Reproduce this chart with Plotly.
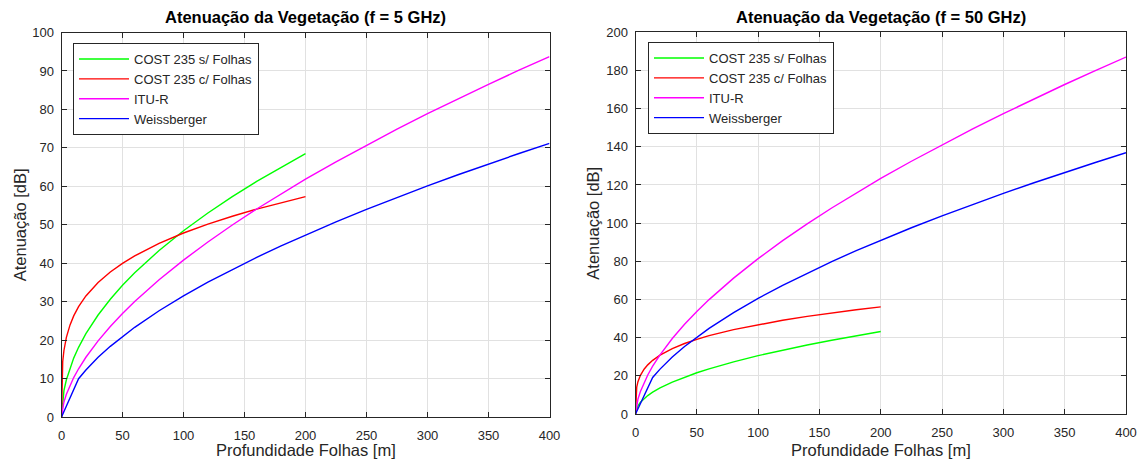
import plotly.graph_objects as go

# Foliage depth samples [m]
depth_200 = [0, 1, 2, 4, 7, 10, 14, 20, 30, 40, 50, 60, 80, 100, 120, 140, 160, 180, 200]
depth_400 = depth_200 + [225, 250, 275, 300, 325, 350, 375, 400]

# Attenuation [dB] at f = 5 GHz
cost_sem_5 = [0, 4.84, 6.85, 9.69, 12.81, 15.31, 18.12, 21.66, 26.52, 30.63, 34.24, 37.51,
              43.31, 48.43, 53.05, 57.30, 61.26, 64.97, 68.49]
cost_com_5 = [0, 14.45, 17.30, 20.72, 23.96, 26.29, 28.70, 31.48, 34.99, 37.70, 39.96, 41.89,
              45.15, 47.85, 50.17, 52.22, 54.06, 55.75, 57.30]
itu_5 = [0, 2.57, 3.90, 5.92, 8.28, 10.25, 12.54, 15.54, 19.81, 23.55, 26.92, 30.03,
         35.69, 40.81, 45.52, 49.93, 54.10, 58.06, 61.85, 66.38, 70.71, 74.87, 78.88,
         82.77, 86.53, 90.19, 93.75]
weiss_5 = [0, 0.71, 1.42, 2.84, 4.98, 7.11, 9.95, 12.23, 15.52, 18.38, 20.96, 23.33,
           27.63, 31.50, 35.07, 38.40, 41.53, 44.51, 47.36, 50.75, 54.00, 57.11, 60.11,
           63.00, 65.81, 68.53, 71.18]

# Attenuation [dB] at f = 50 GHz
cost_sem_50 = [0, 3.06, 4.32, 6.11, 8.08, 9.66, 11.43, 13.66, 16.74, 19.32, 21.61, 23.67,
               27.33, 30.56, 33.47, 36.15, 38.65, 40.99, 43.21]
cost_com_50 = [0, 14.15, 16.95, 20.29, 23.47, 25.75, 28.11, 30.84, 34.27, 36.93, 39.13, 41.03,
               44.22, 46.86, 49.14, 51.15, 52.95, 54.60, 56.12]
itu_50 = [0, 5.14, 7.79, 11.80, 16.51, 20.45, 25.03, 31.00, 39.54, 46.98, 53.72, 59.93,
          71.21, 81.42, 90.83, 99.63, 107.94, 115.85, 123.41, 132.44, 141.09, 149.39, 157.40,
          165.14, 172.65, 179.95, 187.05]
weiss_50 = [0, 1.37, 2.73, 5.47, 9.57, 13.67, 19.14, 23.52, 29.85, 35.35, 40.30, 44.87,
            53.13, 60.58, 67.44, 73.84, 79.87, 85.60, 91.07, 97.60, 103.84, 109.82, 115.59,
            121.16, 126.55, 131.79, 136.89]

series_names = ["COST 235 s/ Folhas", "COST 235 c/ Folhas", "ITU-R", "Weissberger"]
series_colors = ["#00ff00", "#ff0000", "#ff00ff", "#0000ff"]
titles = ["Atenuação da Vegetação (f = 5 GHz)", "Atenuação da Vegetação (f = 50 GHz)"]
x_label = "Profundidade Folhas [m]"
y_label = "Atenuação [dB]"

W, H = 1141, 462
FONT = "Arial, Liberation Sans, Helvetica, sans-serif"
INK = "#262626"
GRID = "#e1e1e1"


def px_x(v):
    return v / W


def px_y(v):
    return 1 - v / H


fig = go.Figure()

panels = [
    dict(xs=[depth_200, depth_200, depth_400, depth_400],
         ys=[cost_sem_5, cost_com_5, itu_5, weiss_5],
         xa="x", ya="y", legend="legend"),
    dict(xs=[depth_200, depth_200, depth_400, depth_400],
         ys=[cost_sem_50, cost_com_50, itu_50, weiss_50],
         xa="x2", ya="y2", legend="legend2"),
]

for p in panels:
    for xs, ys, name, color in zip(p["xs"], p["ys"], series_names, series_colors):
        fig.add_trace(go.Scatter(
            x=xs, y=ys, mode="lines", name=name,
            line=dict(color=color, width=1.4),
            xaxis=p["xa"], yaxis=p["ya"], legend=p["legend"],
        ))

axis_common = dict(
    showline=True, linecolor=INK, linewidth=1, mirror="ticks",
    ticks="inside", ticklen=5, tickcolor=INK, tickwidth=1,
    showgrid=True, gridcolor=GRID, gridwidth=1, zeroline=False,
    automargin=False,
    tickfont=dict(family=FONT, size=13, color=INK),
)

# panel boxes in pixels: (left, right, top, bottom)
box1 = (61.5, 549.5, 32.5, 417)
box2 = (635.5, 1126, 32.3, 414)

legend_common = dict(
    xanchor="left", yanchor="top", bgcolor="white", bordercolor=INK, borderwidth=1,
    font=dict(family=FONT, size=13, color=INK), tracegroupgap=0, itemwidth=50,
)

fig.update_layout(
    width=W, height=H, autosize=False,
    margin=dict(l=0, r=0, t=0, b=0, pad=0, autoexpand=False),
    paper_bgcolor="white", plot_bgcolor="white",
    font=dict(family=FONT, color=INK),
    xaxis=dict(axis_common, domain=[px_x(box1[0]), px_x(box1[1])], range=[0, 400], dtick=50,
               anchor="y", ticklabelstandoff=6),
    yaxis=dict(axis_common, domain=[px_y(box1[3]), px_y(box1[2])], range=[0, 100], dtick=10,
               anchor="x", ticklabelstandoff=4),
    xaxis2=dict(axis_common, domain=[px_x(box2[0]), px_x(box2[1])], range=[0, 400], dtick=50,
                anchor="y2", ticklabelstandoff=6),
    yaxis2=dict(axis_common, domain=[px_y(box2[3]), px_y(box2[2])], range=[0, 200], dtick=20,
                anchor="x2", ticklabelstandoff=4),
    legend=dict(legend_common, x=px_x(73), y=px_y(43)),
    legend2=dict(legend_common, x=px_x(648), y=px_y(42)),
    showlegend=True,
)

annotations = []
for box, title in zip([box1, box2], titles):
    cx = (box[0] + box[1]) / 2
    cy = (box[2] + box[3]) / 2
    annotations.append(dict(text=f"<b>{title}</b>", x=px_x(cx), y=px_y(17),
                            xref="paper", yref="paper", xanchor="center", yanchor="middle",
                            showarrow=False, font=dict(family=FONT, size=16.5, color="black")))
    annotations.append(dict(text=x_label, x=px_x(cx), y=px_y(450),
                            xref="paper", yref="paper", xanchor="center", yanchor="middle",
                            showarrow=False, font=dict(family=FONT, size=16.5, color=INK)))
    annotations.append(dict(text=y_label, x=px_x(box[0] - 42), y=px_y(cy),
                            xref="paper", yref="paper", xanchor="center", yanchor="middle",
                            textangle=-90, showarrow=False,
                            font=dict(family=FONT, size=16.5, color=INK)))
fig.update_layout(annotations=annotations)

fig.write_html("out.html")
